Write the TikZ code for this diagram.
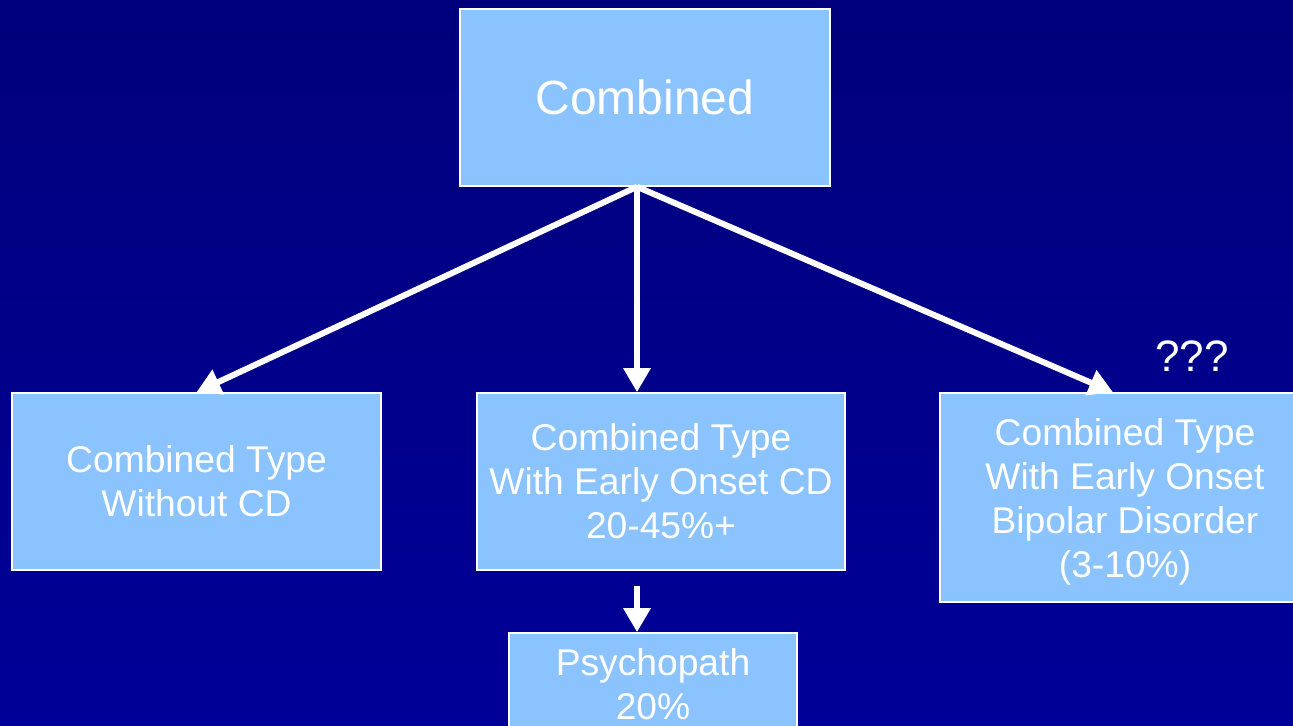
\documentclass[tikz,border=0pt]{standalone}
\usepackage{fontspec}
\setmainfont{Liberation Sans}
\usetikzlibrary{positioning,calc,arrows.meta}
\definecolor{bgtop}{RGB}{0,0,124}
\definecolor{bgbottom}{RGB}{0,0,152}
\definecolor{boxfill}{RGB}{138,195,253}
\begin{document}
\begin{tikzpicture}[x=0.5pt,y=-0.5pt,
    box/.style={draw=white,line width=0.8pt,fill=boxfill,text=white,align=center,
      font=\fontsize{18.6}{22}\selectfont,inner sep=0pt},
    arrow/.style={draw=white,line width=3pt,-{Triangle[length=12pt,width=13pt]}}]
  \fill[top color=bgtop,bottom color=bgbottom] (0,0) rectangle (1293,726);
  \useasboundingbox (0,0) rectangle (1293,726);
  \node[box,minimum width=185pt,minimum height=88.5pt,font=\fontsize{24}{28}\selectfont] (top) at (645,97.5) {Combined};
  \node[box,minimum width=184.5pt,minimum height=88.5pt] (left) at (196.5,481.5) {Combined Type\\Without CD};
  \node[box,minimum width=184pt,minimum height=88.5pt] (mid) at (661,481.5) {Combined Type\\With Early Onset CD\\20-45\%+};
  \node[box,minimum width=185pt,minimum height=104.5pt] (right) at (1125,497.5) {\rule{0pt}{18pt}Combined Type\\With Early Onset\\Bipolar Disorder\\(3-10\%)};
  \node[box,minimum width=144pt,minimum height=51pt] (bot) at (653,684) {Psychopath\\20\%};
  \node[text=white,font=\fontsize{22}{26}\selectfont] (qqq) at (1192,356) {???};
  \coordinate (apex) at ($(top.south)+(-8,0)$);
  \coordinate (rightin) at ($(right.north)+(-12,0)$);
  \coordinate (psyin) at ($(mid.south -| apex)+(0,15)$);
  \draw[arrow] (apex) -- (left.north);
  \draw[arrow] (apex) -- (apex |- mid.north);
  \draw[arrow] (apex) -- (rightin);
  \draw[arrow] (psyin) -- (psyin |- bot.north);
\end{tikzpicture}
\end{document}
